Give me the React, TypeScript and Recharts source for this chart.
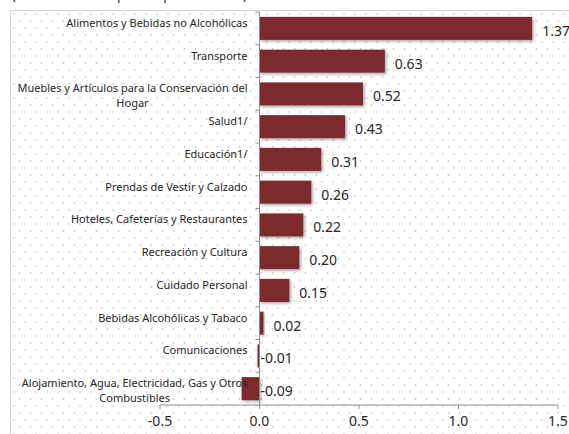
import React from "react";
import { Bar, BarChart, LabelList, ReferenceLine, XAxis, YAxis } from "recharts";

const categories = [
  "Alimentos y Bebidas no Alcohólicas",
  "Transporte",
  "Muebles y Artículos para la Conservación del\nHogar",
  "Salud1/",
  "Educación1/",
  "Prendas de Vestir y Calzado",
  "Hoteles, Cafeterías y Restaurantes",
  "Recreación y Cultura",
  "Cuidado Personal",
  "Bebidas Alcohólicas y Tabaco",
  "Comunicaciones",
  "Alojamiento, Agua, Electricidad, Gas y Otros\nCombustibles",
];

const contributions = [1.37, 0.63, 0.52, 0.43, 0.31, 0.26, 0.22, 0.2, 0.15, 0.02, -0.01, -0.09];

const xTicks = [-0.5, 0, 0.5, 1, 1.5];

const title = "(Contribución en puntos porcentuales)";

const chartData = categories.map((name, i) => ({ name, value: contributions[i] }));

const BAR_COLOR = "#7b2c2f";
const AXIS_COLOR = "#8c8c8c";
const TEXT_COLOR = "#262626";
const FONT = "'Noto Sans', sans-serif";
const CAT_FONT_SIZE = 11;
const GAP = 0.15;

let measureCtx: CanvasRenderingContext2D | null = null;
function textWidth(s: string, size: number) {
  if (!measureCtx) measureCtx = document.createElement("canvas").getContext("2d");
  if (!measureCtx) return s.length * size * 0.5;
  measureCtx.font = `${size}px 'Noto Sans'`;
  return measureCtx.measureText(s).width;
}

function bounds(p: any) {
  const x = Number(p.x), w = Number(p.width);
  const left = Math.min(x, x + w);
  const right = Math.max(x, x + w);
  const v = Number(p.value);
  return { zeroX: v >= 0 ? left : right, endX: v >= 0 ? right : left, v };
}

const BarShape = (props: any) => {
  const { x, y, width, height } = props;
  const left = Math.min(x, x + width);
  const w = Math.abs(width);
  const v = Number(props.value ?? props.payload?.value);
  const zeroX = v >= 0 ? left : left + w;
  const band = height / (1 - 2 * GAP);
  const bandTop = y - band * GAP;
  return (
    <g>
      <line x1={zeroX - 4} x2={zeroX} y1={bandTop} y2={bandTop} stroke={AXIS_COLOR} />
      <rect x={left} y={y} width={Math.max(w, 1)} height={height} fill={BAR_COLOR} filter="url(#barShadow)" />
    </g>
  );
};

const CategoryLabel = (props: any) => {
  const { y, height, value } = props;
  const idx = categories.indexOf(value);
  const { zeroX } = bounds({ ...props, value: contributions[idx] });
  const lines = String(value).split("\n");
  const right = zeroX - 12;
  const cy = y + height / 2 - 6;
  const w0 = textWidth(lines[0], CAT_FONT_SIZE);
  return (
    <g>
      {lines.map((line, i) => (
        <text
          key={i}
          x={i === 0 ? right : right - w0 / 2}
          y={cy + i * 15}
          textAnchor={i === 0 ? "end" : "middle"}
          dominantBaseline="central"
          fontFamily={FONT}
          fontSize={CAT_FONT_SIZE}
          fill={TEXT_COLOR}
        >
          {line}
        </text>
      ))}
    </g>
  );
};

const ValueLabel = (props: any) => {
  const { y, height } = props;
  const { zeroX, endX, v } = bounds(props);
  const lx = v >= 0 ? endX + 10 : zeroX + 1;
  return (
    <text
      x={lx}
      y={y + height / 2 + 2}
      dominantBaseline="central"
      fontFamily={FONT}
      fontSize={14}
      fill={TEXT_COLOR}
    >
      {v.toFixed(2)}
    </text>
  );
};

export default function App() {
  return (
    <div
      style={{
        position: "fixed",
        left: 0,
        top: 0,
        width: 569,
        height: 434,
        overflow: "hidden",
        background: "#fff",
        fontFamily: FONT,
      }}
    >
      <svg width={569} height={12} style={{ position: "absolute", left: 0, top: 0 }}>
        <defs>
          <filter id="barShadow" x="-20%" y="-40%" width="140%" height="180%">
            <feDropShadow dx={1.5} dy={1.5} stdDeviation={1.5} floodColor="#000" floodOpacity={0.35} />
          </filter>
        </defs>
        <text x={12} y={0} fontFamily={FONT} fontSize={13} fill={TEXT_COLOR}>
          {title}
        </text>
      </svg>
      <div
        style={{
          position: "absolute",
          left: 10,
          top: 10,
          width: 600,
          height: 460,
          borderLeft: "1px solid #d9d3d6",
          borderTop: "1px solid #d9d3d6",
          backgroundImage:
            "radial-gradient(circle, #cfcfcf 0.8px, transparent 1.2px), radial-gradient(circle, #cfcfcf 0.8px, transparent 1.2px)",
          backgroundSize: "11px 14px, 11px 14px",
          backgroundPosition: "3px 3px, 8.5px 10px",
        }}
      />
      <div style={{ position: "absolute", left: 0, top: 0 }}>
        <BarChart
          layout="vertical"
          width={569}
          height={434}
          data={chartData}
          margin={{ top: 12, right: 11, bottom: 0, left: 160 }}
          barCategoryGap={`${GAP * 100}%`}
          style={{ overflow: "visible" }}
        >
          <XAxis
            type="number"
            domain={[-0.5, 1.5]}
            ticks={xTicks}
            allowDataOverflow
            height={29}
            tickFormatter={(v: number) => v.toFixed(1)}
            axisLine={{ stroke: AXIS_COLOR }}
            tickLine={{ stroke: AXIS_COLOR }}
            tickSize={4}
            tickMargin={7}
            tick={{ fontSize: 14, fill: TEXT_COLOR, fontFamily: FONT }}
          />
          <YAxis type="category" dataKey="name" hide />
          <ReferenceLine x={0} stroke={AXIS_COLOR} ifOverflow="extendDomain" />
          <Bar dataKey="value" fill={BAR_COLOR} shape={BarShape} isAnimationActive={false}>
            <LabelList dataKey="name" content={CategoryLabel} />
            <LabelList dataKey="value" content={ValueLabel} />
          </Bar>
        </BarChart>
      </div>
    </div>
  );
}
